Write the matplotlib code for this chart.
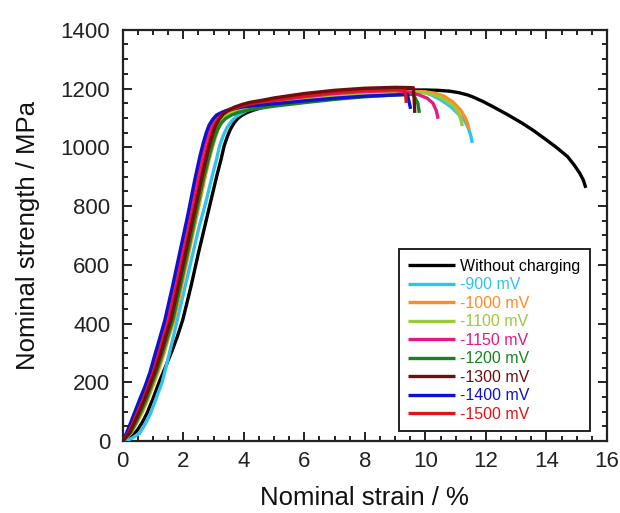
import matplotlib
matplotlib.use("Agg")
import matplotlib.pyplot as plt
from matplotlib.ticker import MultipleLocator

plt.rcParams['font.family'] = ['Liberation Sans', 'DejaVu Sans']

labels = ["Without charging", "-900 mV", "-1000 mV", "-1100 mV", "-1150 mV",
          "-1200 mV", "-1300 mV", "-1400 mV", "-1500 mV"]
colors = ["#000000", "#2EC4EE", "#FF8C1E", "#9CC83C", "#E8187E",
          "#16841E", "#6E0E0E", "#1010D2", "#E01414"]

strain_black = [0, 0.15, 0.3, 0.5, 0.65, 0.8, 1.0, 1.2, 1.4, 1.6, 1.8, 1.98, 2.25, 2.5, 2.8, 3.1, 3.25, 3.35,
                3.45, 3.55, 3.67, 3.8, 3.95, 4.1, 4.3, 4.5, 5, 6, 7, 8, 9, 10, 10.4, 10.8, 11.1, 11.4, 11.6,
                11.9, 12.2, 12.7, 13.2, 13.6, 14.0, 14.35, 14.7, 14.9, 15.1, 15.22, 15.3]
stress_black = [0, 5, 15, 40, 65, 95, 145, 200, 250, 300, 355, 412, 525, 640, 770, 900, 960, 1005,
                1035, 1060, 1082, 1098, 1110, 1118, 1126, 1132, 1148, 1165, 1178, 1188, 1195, 1195, 1194, 1191,
                1186, 1178, 1170, 1156, 1140, 1112, 1082, 1055, 1025, 998, 968, 942, 912, 888, 862]

strain_900 = [0, 0.15, 0.3, 0.45, 0.56, 0.75, 0.9, 1.1, 1.3, 1.52, 1.75, 2.0, 2.25, 2.5, 2.75, 2.95, 3.1, 3.2,
              3.32, 3.45, 3.6, 3.75, 4.0, 4.2, 4.6, 5, 6, 7, 8, 9, 9.6, 9.94, 10.2, 10.5, 10.83, 11.1, 11.3,
              11.42, 11.5, 11.55]
stress_900 = [0, 3, 10, 20, 27, 60, 90, 145, 200, 290, 390, 500, 610, 720, 815, 900, 960, 1005,
              1040, 1068, 1090, 1105, 1120, 1130, 1142, 1150, 1163, 1173, 1181, 1186, 1188, 1188, 1178, 1162,
              1139, 1112, 1090, 1065, 1040, 1015]

strain_1000 = [0, 0.28, 0.46, 0.65, 0.82, 1.0, 1.18, 1.35, 1.52, 1.7, 1.95, 2.2, 2.45, 2.7, 2.86, 2.97, 3.07,
               3.17, 3.29, 3.42, 3.6, 3.8, 4.0, 4.3, 4.6, 5, 6, 7, 8, 9, 9.6, 10, 10.3, 10.6, 10.9, 11.16,
               11.32, 11.4, 11.44]
stress_1000 = [0, 28, 62, 100, 142, 190, 240, 295, 355, 415, 532, 650, 770, 890, 962, 1003, 1038,
               1066, 1090, 1105, 1117, 1126, 1133, 1140, 1147, 1155, 1168, 1178, 1186, 1190, 1190, 1189, 1184,
               1175, 1155, 1127, 1100, 1080, 1060]

strain_1100 = [0, 0.25, 0.42, 0.6, 0.77, 0.95, 1.13, 1.3, 1.47, 1.64, 1.89, 2.14, 2.39, 2.64, 2.8, 2.91, 3.01,
               3.1, 3.22, 3.36, 3.55, 3.75, 4.0, 4.3, 4.6, 5, 6, 7, 8, 9, 9.6, 10, 10.3, 10.6, 10.94, 11.1,
               11.18, 11.22]
stress_1100 = [0, 28, 62, 100, 142, 190, 240, 295, 355, 415, 532, 650, 770, 890, 962, 1005, 1040,
               1065, 1088, 1103, 1116, 1125, 1133, 1140, 1146, 1152, 1166, 1176, 1184, 1188, 1188, 1185, 1178,
               1165, 1139, 1115, 1092, 1072]

strain_1150 = [0, 0.15, 0.3, 0.45, 0.62, 0.8, 0.97, 1.12, 1.29, 1.46, 1.71, 1.95, 2.2, 2.45, 2.62, 2.73, 2.83,
               2.92, 3.04, 3.17, 3.35, 3.55, 3.8, 4.0, 4.5, 5, 6, 7, 8, 9, 9.5, 9.8, 10.06, 10.25, 10.36,
               10.42]
stress_1150 = [0, 27, 60, 100, 140, 185, 235, 290, 350, 412, 530, 650, 770, 890, 970, 1015, 1050,
               1075, 1097, 1112, 1122, 1130, 1137, 1142, 1150, 1160, 1172, 1183, 1190, 1193, 1187, 1178, 1167,
               1150, 1125, 1097]

strain_1200 = [0, 0.25, 0.43, 0.6, 0.78, 0.95, 1.13, 1.3, 1.48, 1.66, 1.91, 2.16, 2.41, 2.66, 2.83, 2.94, 3.04,
               3.13, 3.25, 3.4, 3.6, 3.8, 4.0, 4.2, 4.6, 5, 6, 7, 8, 9, 9.6, 9.75, 9.8]
stress_1200 = [0, 28, 62, 100, 142, 190, 240, 295, 355, 415, 532, 650, 770, 890, 960, 1003, 1036,
               1060, 1082, 1098, 1110, 1118, 1123, 1128, 1134, 1140, 1152, 1163, 1172, 1178, 1180, 1150, 1117]

strain_1300 = [0, 0.22, 0.38, 0.55, 0.72, 0.9, 1.08, 1.25, 1.42, 1.6, 1.85, 2.1, 2.35, 2.6, 2.77, 2.88, 2.98,
               3.07, 3.19, 3.32, 3.5, 3.7, 3.95, 4.2, 4.6, 5, 6, 7, 8, 9, 9.6, 9.63, 9.65]
stress_1300 = [0, 28, 62, 100, 142, 190, 240, 295, 355, 415, 532, 650, 770, 890, 968, 1012, 1048,
               1073, 1096, 1113, 1127, 1137, 1146, 1153, 1160, 1168, 1183, 1194, 1201, 1204, 1203, 1160, 1117]

strain_1400 = [0, 0.12, 0.25, 0.4, 0.55, 0.73, 0.9, 1.05, 1.22, 1.39, 1.65, 1.9, 2.15, 2.38, 2.55, 2.66, 2.76,
               2.85, 2.97, 3.1, 3.3, 3.5, 3.75, 4.0, 4.5, 5, 6, 7, 8, 9, 9.4, 9.45, 9.51]
stress_1400 = [0, 27, 60, 100, 140, 185, 235, 290, 350, 412, 530, 650, 770, 890, 970, 1015, 1050,
               1075, 1095, 1110, 1120, 1127, 1133, 1138, 1143, 1148, 1158, 1167, 1174, 1178, 1180, 1160, 1131]

strain_1500 = [0, 0.2, 0.35, 0.5, 0.67, 0.85, 1.03, 1.2, 1.37, 1.55, 1.8, 2.05, 2.3, 2.55, 2.72, 2.83, 2.93,
               3.02, 3.14, 3.27, 3.45, 3.65, 3.9, 4.2, 4.6, 5, 6, 7, 8, 9, 9.3, 9.35, 9.37]
stress_1500 = [0, 30, 65, 100, 140, 190, 240, 295, 355, 415, 532, 650, 770, 890, 968, 1012, 1048,
               1073, 1094, 1110, 1122, 1131, 1140, 1148, 1154, 1160, 1175, 1187, 1195, 1198, 1198, 1175, 1151]

series = [
    (strain_black, stress_black), (strain_900, stress_900), (strain_1000, stress_1000),
    (strain_1100, stress_1100), (strain_1150, stress_1150), (strain_1200, stress_1200),
    (strain_1300, stress_1300), (strain_1400, stress_1400), (strain_1500, stress_1500),
]
zorders = [3, 3, 3, 3, 4, 3, 5, 4, 4]

fig = plt.figure(figsize=(6.2, 5.13), dpi=100)
ax = fig.add_axes([0.198, 0.140, 0.781, 0.802])

handles = []
for (xs, ys), c, lab, z in zip(series, colors, labels, zorders):
    h, = ax.plot(xs, ys, color=c, lw=2.4, label=lab, zorder=z,
                 solid_capstyle='butt', solid_joinstyle='round')
    handles.append(h)

ax.set_xlim(0, 16)
ax.set_ylim(0, 1400)
ax.xaxis.set_major_locator(MultipleLocator(2))
ax.xaxis.set_minor_locator(MultipleLocator(0.5))
ax.yaxis.set_major_locator(MultipleLocator(200))
ax.yaxis.set_minor_locator(MultipleLocator(50))
ax.tick_params(which='both', direction='in', top=True, right=True, width=1.4, colors='#222222')
ax.tick_params(which='major', length=6.5, labelsize=16)
ax.tick_params(axis='x', which='major', pad=7)
ax.tick_params(axis='y', which='major', pad=9)
ax.tick_params(which='minor', length=3.5)
for s in ax.spines.values():
    s.set_linewidth(1.6)
    s.set_color('#222222')

ax.set_xlabel("Nominal strain / %", fontsize=18.5, labelpad=10, color='#111111')
ax.set_ylabel("Nominal strength / MPa", fontsize=18.5, labelpad=15, color='#111111')

leg = ax.legend(handles=handles, loc='lower right', bbox_to_anchor=(0.965, 0.024),
                fontsize=11.5, frameon=True, fancybox=False, framealpha=1,
                edgecolor='#222222', handlelength=2.9, handletextpad=0.35,
                labelspacing=0.22, borderpad=0.6, borderaxespad=0)
leg.get_frame().set_linewidth(1.4)
for t, c in zip(leg.get_texts(), colors):
    t.set_color(c)

fig.savefig("out.png", dpi=100)
